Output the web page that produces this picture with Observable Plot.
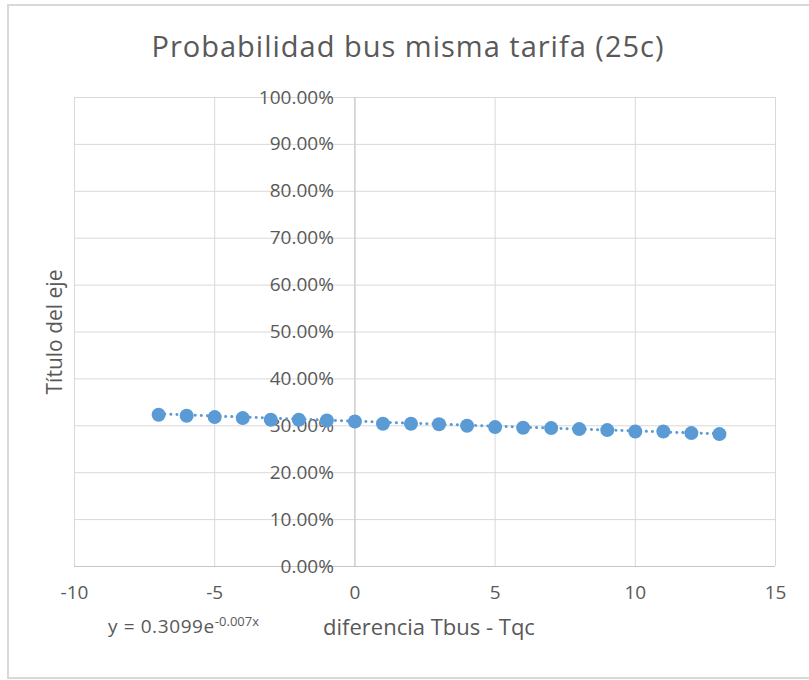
<!DOCTYPE html>
<html>
<head>
<meta charset="utf-8">
<script src="https://cdn.jsdelivr.net/npm/d3@7"></script>
<script src="https://cdn.jsdelivr.net/npm/@observablehq/plot@0.6"></script>
<style>
  html, body { margin: 0; padding: 0; background: #fff; }
  #wrap { position: relative; width: 809px; height: 680px; overflow: hidden; background: #fff; font-family: "Open Sans", sans-serif; }
  #frame { position: absolute; left: 7px; top: 4px; width: 820px; height: 675px; border: 2px solid #d9d9d9; box-sizing: border-box; }
  #title { position: absolute; left: 0; top: 31px; width: 816px; text-align: center; font-size: 29px; letter-spacing: 1px; color: #595959; line-height: 1; white-space: nowrap; }
  #chart { position: absolute; left: 0; top: 0; }
  #eq { position: absolute; left: 108px; top: 617px; font-size: 19px; letter-spacing: 0.6px; color: #595959; line-height: 1; white-space: nowrap; }
  #eq sup { font-size: 13px; letter-spacing: 0; vertical-align: 7px; line-height: 0; }
</style>
</head>
<body>
<div id="wrap">
  <div id="frame"></div>
  <div id="chart"></div>
  <div id="title">Probabilidad bus misma tarifa (25c)</div>
  <div id="eq">y = 0.3099e<sup>-0.007x</sup></div>
</div>
<script>
// Data
const xValues = [-7, -6, -5, -4, -3, -2, -1, 0, 1, 2, 3, 4, 5, 6, 7, 8, 9, 10, 11, 12, 13];
const yValues = [0.3235, 0.3213, 0.3185, 0.3164, 0.3130, 0.3128, 0.3113, 0.3092, 0.3043, 0.3043, 0.3032,
                 0.3000, 0.2972, 0.2957, 0.2951, 0.2930, 0.2908, 0.2878, 0.2878, 0.2844, 0.2823];
const xTicks = [-10, -5, 0, 5, 10, 15];
const yTicks = [0, 0.1, 0.2, 0.3, 0.4, 0.5, 0.6, 0.7, 0.8, 0.9, 1.0];
// Exponential trendline shown in the chart: y = 0.3099 e^(-0.007x)
const trendA = 0.3099;
const trendB = -0.007;

const points = xValues.map((x, i) => ({x, y: yValues[i]}));
const trend = xValues.map(x => ({x, y: trendA * Math.exp(trendB * x)}));

const blue = "#5b9bd5";
const textColor = "#595959";
const gridColor = "#d9d9d9";

const chart = Plot.plot({
  width: 809,
  height: 680,
  marginLeft: 74,
  marginRight: 34,
  marginTop: 97,
  marginBottom: 114,
  style: {background: "transparent", fontFamily: "'Open Sans', sans-serif", overflow: "visible"},
  x: {domain: [-10, 15], axis: null},
  y: {domain: [0, 1], axis: null},
  marks: [
    Plot.gridX(xTicks, {stroke: gridColor, strokeOpacity: 1, strokeWidth: 1}),
    Plot.gridY(yTicks, {stroke: gridColor, strokeOpacity: 1, strokeWidth: 1}),
    Plot.ruleX([0], {stroke: "#c6c6c6", strokeWidth: 1}),
    Plot.ruleY([0], {stroke: "#c6c6c6", strokeWidth: 1}),
    Plot.text(yTicks, {x: 0, y: d => d, text: d => (d * 100).toFixed(2) + "%", textAnchor: "end", dx: -21, fontSize: 19, fill: textColor}),
    Plot.text(xTicks, {x: d => d, frameAnchor: "bottom", text: d => String(d), dy: 32, fontSize: 19, fill: textColor}),
    Plot.dot(points, {x: "x", y: "y", r: 7, fill: blue, stroke: "none"}),
    Plot.line(trend, {x: "x", y: "y", stroke: blue, strokeWidth: 3, strokeDasharray: "0.1 6", strokeLinecap: "round"}),
    Plot.text(["Título del eje"], {frameAnchor: "left", textAnchor: "middle", text: d => d, rotate: -90, dx: -19, fontSize: 21, fill: textColor}),
    Plot.text(["diferencia Tbus - Tqc"], {frameAnchor: "bottom", textAnchor: "middle", text: d => d, dx: 4, dy: 68, fontSize: 22, fill: textColor})
  ]
});
document.getElementById("chart").appendChild(chart);
</script>
</body>
</html>
